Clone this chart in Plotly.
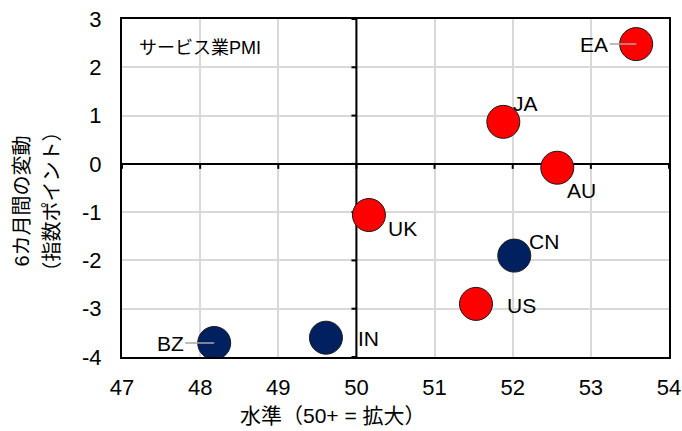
import plotly.graph_objects as go

# Services PMI: level (x) vs 6-month change (y)
regions = ["EA", "JA", "AU", "UK", "CN", "US", "IN", "BZ"]
level = [53.58, 51.88, 52.57, 50.16, 52.02, 51.53, 49.61, 48.18]
change = [2.48, 0.87, -0.08, -1.06, -1.90, -2.90, -3.60, -3.71]
group = ["dev", "dev", "dev", "dev", "em", "dev", "em", "em"]

x_ticks = [47, 48, 49, 50, 51, 52, 53, 54]
y_ticks = [3, 2, 1, 0, -1, -2, -3, -4]

colors = {"dev": "#FF0000", "em": "#002060"}
font_jp = "Liberation Sans, Noto Sans CJK JP"
font_num = "Liberation Sans, Arial"

fig = go.Figure()
fig.add_trace(go.Scatter(
    x=level, y=change, mode="markers",
    marker=dict(size=33, color=[colors[g] for g in group],
                line=dict(color="#1a1a1a", width=1)),
    hoverinfo="skip", showlegend=False,
))

# label placement (pixel offsets from each point)
label_pos = {
    "EA": dict(ax=-42, ay=0, arrow=True),
    "JA": dict(xshift=22, yshift=18),
    "AU": dict(xshift=24, yshift=-23),
    "UK": dict(xshift=34, yshift=-13),
    "CN": dict(xshift=30, yshift=14),
    "US": dict(xshift=46, yshift=-2),
    "IN": dict(xshift=43, yshift=-1),
    "BZ": dict(ax=-44, ay=0, arrow=True),
}
for r, xv, yv in zip(regions, level, change):
    p = label_pos[r]
    if p.get("arrow"):
        fig.add_annotation(x=xv, y=yv, text=r, showarrow=True, arrowhead=0,
                           arrowwidth=1.5, arrowcolor="#a6a6a6", standoff=0,
                           ax=p["ax"], ay=p["ay"],
                           font=dict(family=font_num, size=21, color="#000"))
    else:
        fig.add_annotation(x=xv, y=yv, text=r, showarrow=False,
                           xshift=p["xshift"], yshift=p["yshift"],
                           font=dict(family=font_num, size=21, color="#000"))

# quadrant divider at 50 with its own small tick marks (above grid, below markers)
fig.add_shape(type="line", x0=50, x1=50, y0=-4, y1=3, xref="x", yref="y",
              line=dict(color="#000", width=2), layer="between")
for yv in y_ticks:
    fig.add_shape(type="line", xref="x", yref="y", xsizemode="pixel", xanchor=50,
                  x0=-5, x1=0, y0=yv, y1=yv, line=dict(color="#000", width=2),
                  layer="between")
for xv in x_ticks:
    fig.add_shape(type="line", xref="x", yref="y", ysizemode="pixel", yanchor=0,
                  y0=-5, y1=0, x0=xv, x1=xv, line=dict(color="#000", width=2),
                  layer="between")

fig.add_annotation(x=0.027, y=0.915, xref="paper", yref="paper",
                   text="サービス業PMI", showarrow=False, xanchor="left", yanchor="middle",
                   font=dict(family=font_jp, size=18, color="#000"))

# axis titles
fig.add_annotation(x=0.385, y=-0.172, xref="paper", yref="paper",
                   text="水準（50+ = 拡大）", showarrow=False,
                   xanchor="center", yanchor="middle",
                   font=dict(family=font_jp, size=21, color="#000"))
fig.add_annotation(x=0, y=0.46, xref="paper", yref="paper", xshift=-100,
                   text="6カ月間の変動", showarrow=False, textangle=-90,
                   xanchor="center", yanchor="middle",
                   font=dict(family=font_jp, size=20, color="#000"))
fig.add_annotation(x=0, y=0.46, xref="paper", yref="paper", xshift=-70,
                   text="（指数ポイント）", showarrow=False, textangle=-90,
                   xanchor="center", yanchor="middle",
                   font=dict(family=font_jp, size=20, color="#000"))

fig.update_layout(
    width=682, height=431,
    margin=dict(l=122, r=13, t=19, b=74, autoexpand=False),
    paper_bgcolor="white", plot_bgcolor="white",
    xaxis=dict(range=[47, 54], tickvals=x_ticks, ticktext=[str(v) for v in x_ticks],
               showgrid=True, gridcolor="#d9d9d9", gridwidth=2,
               zeroline=False, showline=True, linecolor="#000", linewidth=2,
               mirror=True, ticks="", automargin=False, ticklabelstandoff=10,
               tickfont=dict(family=font_num, size=22, color="#000")),
    yaxis=dict(range=[-4, 3], tickvals=y_ticks, ticktext=[str(v) for v in y_ticks],
               showgrid=True, gridcolor="#d9d9d9", gridwidth=2,
               zeroline=True, zerolinecolor="#000", zerolinewidth=2,
               showline=True, linecolor="#000", linewidth=2, mirror=True,
               ticks="", automargin=False, ticklabelstandoff=14,
               tickfont=dict(family=font_num, size=22, color="#000")),
)

fig.write_html("out.html")
